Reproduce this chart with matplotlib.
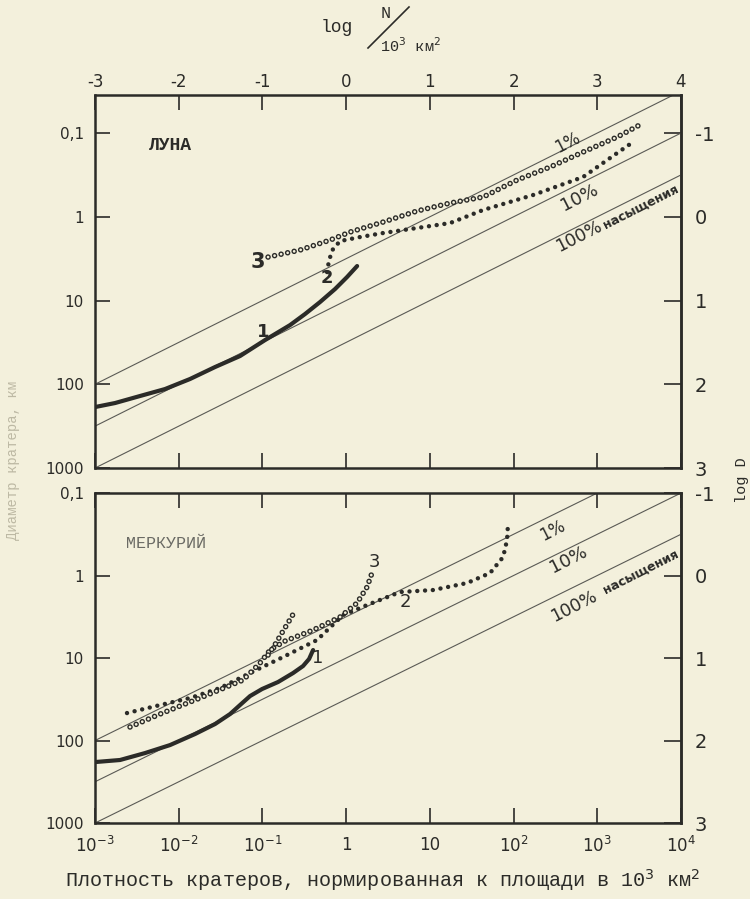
import matplotlib
matplotlib.use('Agg')
import matplotlib.pyplot as plt
from matplotlib.lines import Line2D

plt.rcParams['lines.scale_dashes'] = False

paper = '#f3f0dc'
ink = '#2b2b28'
narrow = ['Liberation Sans Narrow', 'DejaVu Sans']
mono = ['Liberation Mono', 'DejaVu Sans Mono']

# Луна: log N (на 10^3 км^2) и log D (км)
moon1_n = [-3.0, -2.761, -2.462, -2.164, -1.865, -1.566, -1.268, -0.969, -0.670, -0.491, -0.312, -0.133, 0.011, 0.131]
moon1_d = [2.272, 2.224, 2.140, 2.057, 1.937, 1.794, 1.663, 1.472, 1.293, 1.161, 1.018, 0.863, 0.719, 0.588]
moon2_n = [-0.228, -0.204, -0.157, -0.073, 0.166, 0.441, 0.847, 1.241, 1.636, 2.233, 2.830, 3.237, 3.428]
moon2_d = [0.660, 0.516, 0.385, 0.290, 0.242, 0.194, 0.134, 0.075, -0.081, -0.260, -0.475, -0.761, -0.893]
moon3_n = [-0.933, -0.551, -0.192, 0.047, 0.441, 0.847, 1.241, 1.636, 2.042, 2.436, 2.830, 3.237, 3.548]
moon3_d = [0.481, 0.397, 0.278, 0.182, 0.063, -0.069, -0.164, -0.236, -0.439, -0.594, -0.773, -0.952, -1.119]

# Меркурий
merc1_n = [-3.0, -2.701, -2.403, -2.104, -1.805, -1.566, -1.387, -1.268, -1.148, -1.005, -0.814, -0.634, -0.515, -0.443, -0.395]
merc1_d = [2.261, 2.236, 2.152, 2.055, 1.921, 1.800, 1.679, 1.570, 1.461, 1.376, 1.291, 1.182, 1.097, 1.012, 0.903]
merc2_n = [-2.618, -2.223, -1.865, -1.507, -1.148, -0.754, -0.348, -0.037, 0.250, 0.644, 1.038, 1.444, 1.719, 1.875, 1.922, 1.934]
merc2_d = [1.667, 1.570, 1.485, 1.364, 1.182, 0.988, 0.782, 0.479, 0.358, 0.200, 0.176, 0.091, -0.030, -0.224, -0.430, -0.636]
merc3_n = [-2.582, -2.223, -1.746, -1.232, -1.029, -0.909, -0.730, -0.395, -0.073, 0.130, 0.250, 0.321]
merc3_d = [1.836, 1.679, 1.485, 1.267, 1.061, 0.903, 0.794, 0.661, 0.503, 0.333, 0.139, -0.067]
merc3b_n = [-0.933, -0.838, -0.754, -0.682, -0.611]
merc3b_d = [0.964, 0.818, 0.673, 0.552, 0.430]

# линии насыщения: log D = c - 0.5 log N
sat_levels = ['1%', '10%', '100%']
sat_c = [0.5, 1.0, 1.5]
sat_slope = -0.5

x_ticks = [-3, -2, -1, 0, 1, 2, 3, 4]
top_labels = ['-3', '-2', '-1', '0', '1', '2', '3', '4']
bottom_labels = ['$10^{-3}$', '$10^{-2}$', '$10^{-1}$', '1', '10', '$10^{2}$', '$10^{3}$', '$10^{4}$']
y_ticks = [-1, 0, 1, 2, 3]
left_labels = ['0,1', '1', '10', '100', '1000']
right_labels = ['-1', '0', '1', '2', '3']


def solid(ax, n, d):
    ax.plot(n, d, color=ink, lw=3.0, solid_capstyle='round', solid_joinstyle='round')


def dots(ax, n, d):
    ax.plot(n, d, color=ink, lw=3.2, linestyle=(0, (0.01, 5.6)), dash_capstyle='round')


def rings(ax, n, d):
    ax.plot(n, d, color=ink, lw=4.0, linestyle=(0, (0.01, 4.8)), dash_capstyle='round')
    ax.plot(n, d, color=paper, lw=2.0, linestyle=(0, (0.01, 4.8)), dash_capstyle='round')


def frame(ax, ytop):
    ax.set_facecolor(paper)
    ax.set_xlim(-3, 4)
    ax.set_ylim(3, ytop)
    for s in ax.spines.values():
        s.set_linewidth(1.8)
        s.set_color(ink)
    ax.set_xticks(x_ticks)
    ax.set_yticks(y_ticks)
    ax.set_yticklabels(left_labels, fontsize=11, family=narrow, color=ink)
    ax.tick_params(direction='in', length=11, width=1.2, color=ink,
                   top=True, bottom=True, left=True, right=False,
                   labelbottom=False)
    ax.tick_params(axis='y', pad=8)
    sec = ax.secondary_yaxis('right')
    sec.set_yticks(y_ticks)
    sec.set_yticklabels(right_labels, fontsize=14, family=narrow, color=ink)
    sec.tick_params(direction='in', length=12, width=1.2, color=ink, pad=10)
    sec.spines['right'].set_linewidth(1.8)
    sec.spines['right'].set_color(ink)
    for c in sat_c:
        ax.axline((0, c), slope=sat_slope, color='#5a5a55', lw=0.8)


fig = plt.figure(figsize=(7.5, 8.99), dpi=100, facecolor=paper)
ax1 = fig.add_axes([0.1267, 0.4794, 0.7813, 0.4149])
ax2 = fig.add_axes([0.1267, 0.0845, 0.7813, 0.3671])

frame(ax1, -1.454)
frame(ax2, -1.0)

ax1.tick_params(axis='x', labeltop=True, pad=3)
ax1.set_xticklabels(top_labels, fontsize=12, family=narrow, color=ink)
ax2.tick_params(axis='x', labelbottom=True, pad=9)
ax2.set_xticklabels(bottom_labels, fontsize=12, family=narrow, color=ink)

# Луна
solid(ax1, moon1_n, moon1_d)
dots(ax1, moon2_n, moon2_d)
rings(ax1, moon3_n, moon3_d)
ax1.text(-2.10, -0.857, 'ЛУНА', fontsize=13, family=mono, weight='bold', color=ink,
         ha='center', va='center')
ax1.text(-0.99, 1.37, '1', fontsize=13, family=narrow, weight='bold', color=ink, ha='center', va='center')
ax1.text(-0.228, 0.73, '2', fontsize=13, family=narrow, weight='bold', color=ink, ha='center', va='center')
ax1.text(-1.05, 0.54, '3', fontsize=15, family=narrow, weight='bold', color=ink, ha='center', va='center')
ax1.text(2.65, -0.89, '1%', fontsize=12, family=narrow, color=ink, rotation=27, ha='center', va='center')
ax1.text(2.79, -0.236, '10%', fontsize=13, family=narrow, color=ink, rotation=27, ha='center', va='center')
ax1.text(2.78, 0.23, '100%', fontsize=12.5, family=narrow, color=ink, rotation=27, ha='center', va='center')
ax1.text(3.52, -0.12, 'насыщения', fontsize=9, family=narrow, weight='bold', color=ink,
         rotation=27, ha='center', va='center')

# Меркурий
solid(ax2, merc1_n, merc1_d)
dots(ax2, merc2_n, merc2_d)
rings(ax2, merc3_n, merc3_d)
rings(ax2, merc3b_n, merc3b_d)
ax2.text(-2.15, -0.394, 'МЕРКУРИЙ', fontsize=12, family=mono, color='#6a6a64',
         ha='center', va='center')
ax2.text(-0.336, 1.0, '1', fontsize=13, family=narrow, color=ink, ha='center', va='center')
ax2.text(0.704, 0.321, '2', fontsize=13, family=narrow, color=ink, ha='center', va='center')
ax2.text(0.333, -0.164, '3', fontsize=13, family=narrow, color=ink, ha='center', va='center')
ax2.text(2.46, -0.55, '1%', fontsize=12, family=narrow, color=ink, rotation=27, ha='center', va='center')
ax2.text(2.65, -0.19, '10%', fontsize=13, family=narrow, color=ink, rotation=27, ha='center', va='center')
ax2.text(2.72, 0.37, '100%', fontsize=12.5, family=narrow, color=ink, rotation=27, ha='center', va='center')
ax2.text(3.52, -0.04, 'насыщения', fontsize=9, family=narrow, weight='bold', color=ink,
         rotation=27, ha='center', va='center')

# подпись верхней оси: log N / 10^3 км^2
fig.text(337 / 750, 1 - 27 / 899, 'log', fontsize=13, family=mono, color=ink, ha='center', va='center')
fig.text(386 / 750, 1 - 14 / 899, 'N', fontsize=12, family=mono, color=ink, ha='center', va='center')
fig.add_artist(Line2D([368 / 750, 409 / 750], [1 - 48 / 899, 1 - 7 / 899],
                      transform=fig.transFigure, color=ink, lw=1.2))
fig.text(410 / 750, 1 - 46 / 899, '10$^3$ км$^2$', fontsize=11, family=mono, color=ink,
         ha='center', va='center')

fig.text(383 / 750, 1 - 880 / 899, 'Плотность кратеров, нормированная к площади в 10$^3$ км$^2$',
         fontsize=14.5, family=mono, color=ink, ha='center', va='center')
fig.text(742 / 750, 1 - 480 / 899, 'log D', fontsize=11, family=mono, color=ink,
         rotation=90, ha='center', va='center')
fig.text(13 / 750, 1 - 460 / 899, 'Диаметр кратера, км', fontsize=10, family=mono, color='#bdb9a4',
         rotation=90, ha='center', va='center')

fig.savefig('out.png', dpi=100, facecolor=paper)
